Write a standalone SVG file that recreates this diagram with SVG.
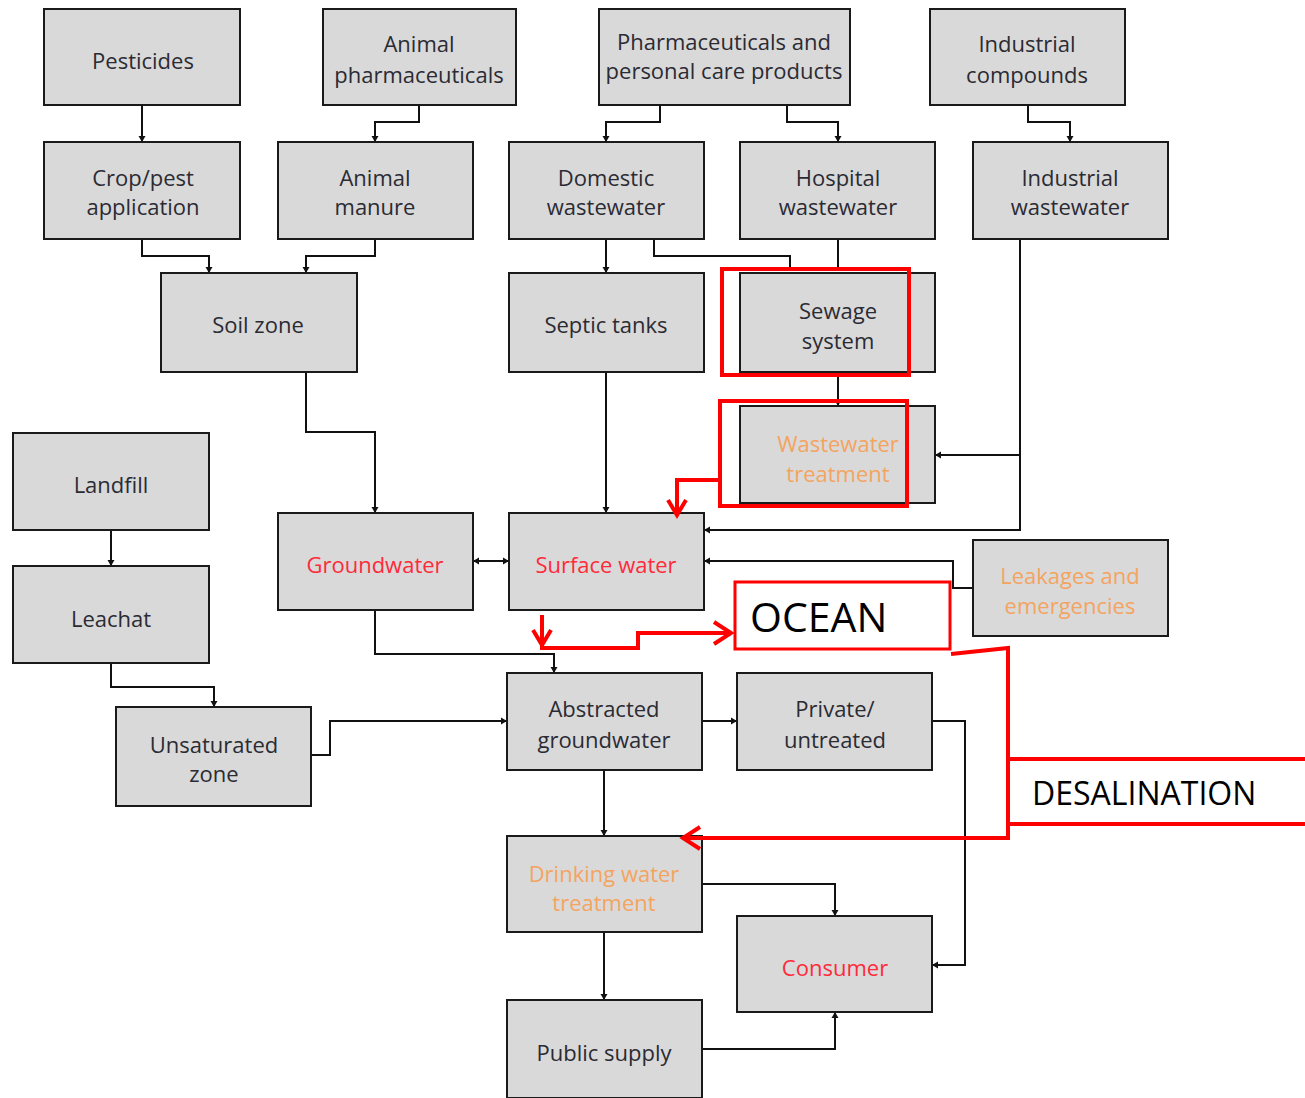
<svg xmlns="http://www.w3.org/2000/svg" width="1305" height="1098" viewBox="0 0 1305 1098">
<style>
.box{fill:#d9d9d9;stroke:#1a1a1a;stroke-width:2}
.t{font-family:"Open Sans","Liberation Sans",sans-serif;font-size:22px;fill:#2b2b33;text-anchor:middle;dominant-baseline:central}
.red{fill:#ff2a3a}
.org{fill:#f4a460}
.c{fill:none;stroke:#111;stroke-width:2}
.r{fill:none;stroke:#ff0000;stroke-width:4}
.big{font-family:"Open Sans","Liberation Sans",sans-serif;fill:#000;dominant-baseline:central}
</style>
<defs>
<marker id="a" markerUnits="userSpaceOnUse" markerWidth="10" markerHeight="10" refX="8" refY="5" orient="auto">
<path d="M2,1.5 L8,5 L2,8.5 Z" fill="#111"/>
</marker>
</defs>
<rect width="1305" height="1098" fill="#fff"/>

<g id="connectors">
<path class="c" d="M142,105 V142" marker-end="url(#a)"/>
<path class="c" d="M419,105 V122 H375 V142" marker-end="url(#a)"/>
<path class="c" d="M142,239 V256 H209 V273" marker-end="url(#a)"/>
<path class="c" d="M375,239 V256 H306 V273" marker-end="url(#a)"/>
<path class="c" d="M660,105 V122 H606 V142" marker-end="url(#a)"/>
<path class="c" d="M787,105 V122 H838 V142" marker-end="url(#a)"/>
<path class="c" d="M1028,105 V122 H1070 V142" marker-end="url(#a)"/>
<path class="c" d="M606,239 V273" marker-end="url(#a)"/>
<path class="c" d="M654,239 V256 H790 V270"/>
<path class="c" d="M838,239 V270"/>
<path class="c" d="M838,376 V406" marker-end="url(#a)"/>
<path class="c" d="M1020,239 V530 H704" marker-end="url(#a)"/>
<path class="c" d="M1020,455 H935" marker-end="url(#a)"/>
<path class="c" d="M306,372 V432 H375 V513" marker-end="url(#a)"/>
<path class="c" d="M606,372 V513" marker-end="url(#a)"/>
<path class="c" d="M478,561 H509" marker-end="url(#a)"/>
<path class="c" d="M505,561 H473" marker-end="url(#a)"/>
<path class="c" d="M973,588 H953 V561 H704" marker-end="url(#a)"/>
<path class="c" d="M375,610 V654 H554 V673" marker-end="url(#a)"/>
<path class="c" d="M111,530 V566" marker-end="url(#a)"/>
<path class="c" d="M111,663 V687 H214 V707" marker-end="url(#a)"/>
<path class="c" d="M311,755 H330 V721 H507" marker-end="url(#a)"/>
<path class="c" d="M702,721 H737" marker-end="url(#a)"/>
<path class="c" d="M604,770 V836" marker-end="url(#a)"/>
<path class="c" d="M932,721 H965 V965 H932" marker-end="url(#a)"/>
<path class="c" d="M702,884 H835 V916" marker-end="url(#a)"/>
<path class="c" d="M604,932 V1000" marker-end="url(#a)"/>
<path class="c" d="M702,1049 H835 V1012" marker-end="url(#a)"/>
</g>

<g id="n-pesticides"><rect class="box" x="44" y="9" width="196" height="96"/><text class="t" x="143" y="60">Pesticides</text></g>
<g id="n-animal-pharma"><rect class="box" x="323" y="9" width="193" height="96"/><text class="t" x="419" y="43">Animal</text><text class="t" x="419" y="74">pharmaceuticals</text></g>
<g id="n-ppcp"><rect class="box" x="599" y="9" width="251" height="96"/><text class="t" x="724" y="41">Pharmaceuticals and</text><text class="t" x="724" y="70">personal care products</text></g>
<g id="n-ind-comp"><rect class="box" x="930" y="9" width="195" height="96"/><text class="t" x="1027" y="43">Industrial</text><text class="t" x="1027" y="74">compounds</text></g>

<g id="n-crop"><rect class="box" x="44" y="142" width="196" height="97"/><text class="t" x="143" y="177">Crop/pest</text><text class="t" x="143" y="206">application</text></g>
<g id="n-manure"><rect class="box" x="278" y="142" width="195" height="97"/><text class="t" x="375" y="177">Animal</text><text class="t" x="375" y="206">manure</text></g>
<g id="n-domestic"><rect class="box" x="509" y="142" width="195" height="97"/><text class="t" x="606" y="177">Domestic</text><text class="t" x="606" y="206">wastewater</text></g>
<g id="n-hospital"><rect class="box" x="740" y="142" width="195" height="97"/><text class="t" x="838" y="177">Hospital</text><text class="t" x="838" y="206">wastewater</text></g>
<g id="n-ind-ww"><rect class="box" x="973" y="142" width="195" height="97"/><text class="t" x="1070" y="177">Industrial</text><text class="t" x="1070" y="206">wastewater</text></g>

<g id="n-soil"><rect class="box" x="161" y="273" width="196" height="99"/><text class="t" x="258" y="324">Soil zone</text></g>
<g id="n-septic"><rect class="box" x="509" y="273" width="195" height="99"/><text class="t" x="606" y="324">Septic tanks</text></g>
<g id="n-sewage"><rect class="box" x="740" y="273" width="195" height="99"/><text class="t" x="838" y="310">Sewage</text><text class="t" x="838" y="340">system</text><rect class="r" x="722" y="269" width="187" height="106"/></g>
<g id="n-wwt"><rect class="box" x="740" y="406" width="195" height="97"/><text class="t org" x="838" y="443">Wastewater</text><text class="t org" x="838" y="473">treatment</text><rect class="r" x="720" y="401" width="187" height="105"/></g>

<g id="n-landfill"><rect class="box" x="13" y="433" width="196" height="97"/><text class="t" x="111" y="484">Landfill</text></g>
<g id="n-leachat"><rect class="box" x="13" y="566" width="196" height="97"/><text class="t" x="111" y="618">Leachat</text></g>
<g id="n-unsat"><rect class="box" x="116" y="707" width="195" height="99"/><text class="t" x="214" y="744">Unsaturated</text><text class="t" x="214" y="773">zone</text></g>

<g id="n-groundwater"><rect class="box" x="278" y="513" width="195" height="97"/><text class="t red" x="375" y="564">Groundwater</text></g>
<g id="n-surface"><rect class="box" x="509" y="513" width="195" height="97"/><text class="t red" x="606" y="564">Surface water</text></g>
<g id="n-leak"><rect class="box" x="973" y="540" width="195" height="96"/><text class="t org" x="1070" y="575">Leakages and</text><text class="t org" x="1070" y="605">emergencies</text></g>

<g id="n-abstracted"><rect class="box" x="507" y="673" width="195" height="97"/><text class="t" x="604" y="708">Abstracted</text><text class="t" x="604" y="739">groundwater</text></g>
<g id="n-private"><rect class="box" x="737" y="673" width="195" height="97"/><text class="t" x="835" y="708">Private/</text><text class="t" x="835" y="739">untreated</text></g>
<g id="n-drinking"><rect class="box" x="507" y="836" width="195" height="96"/><text class="t org" x="604" y="873">Drinking water</text><text class="t org" x="604" y="902">treatment</text></g>
<g id="n-consumer"><rect class="box" x="737" y="916" width="195" height="96"/><text class="t red" x="835" y="967">Consumer</text></g>
<g id="n-public"><rect class="box" x="507" y="1000" width="195" height="98"/><text class="t" x="604" y="1052">Public supply</text></g>

<g id="n-ocean"><rect x="735" y="582" width="215" height="67" fill="#fff" stroke="#ff0000" stroke-width="3"/><text class="big" x="750" y="616" font-size="41">OCEAN</text></g>
<g id="n-desal"><rect x="1008" y="759" width="300" height="65" fill="#fff" stroke="#ff0000" stroke-width="4"/><text class="big" x="1032" y="792" font-size="32">DESALINATION</text></g>

<g id="red-connectors">
<path class="r" d="M720,480 H677 V515"/>
<path class="r" d="M668,500 L677,515 L686,500"/>
<path class="r" d="M542,615 V645"/>
<path class="r" d="M533,630 L542,645 L551,630"/>
<path class="r" d="M540,648 H638 V633 H730"/>
<path class="r" d="M714,622 L731,633 L714,644"/>
<path class="r" d="M951,654 L1008,648 V838 H682"/>
<path class="r" d="M700,827 L683,838 L700,849"/>
</g>
</svg>
